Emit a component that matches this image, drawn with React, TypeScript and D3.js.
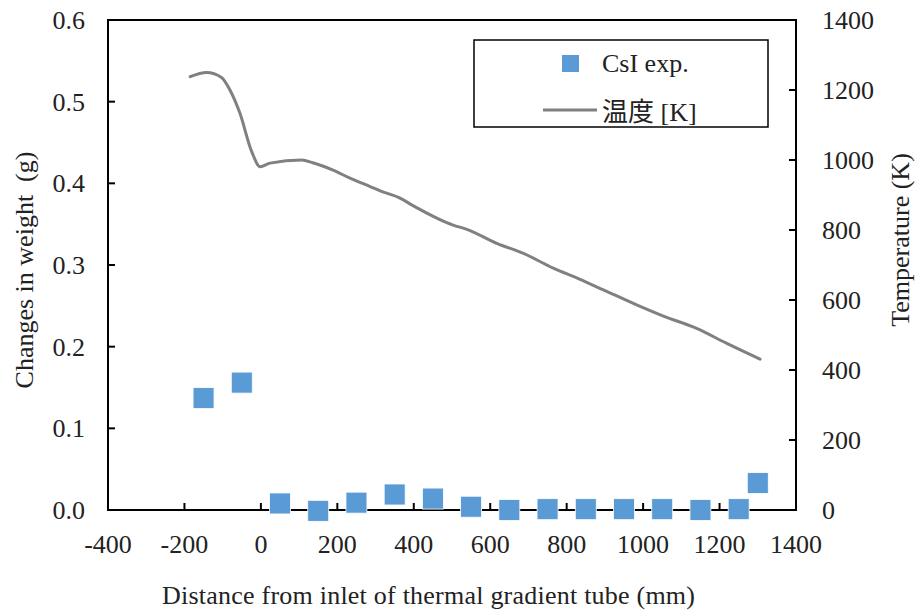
import React from "react";
import * as d3 from "d3";

const xTicks = [-400, -200, 0, 200, 400, 600, 800, 1000, 1200, 1400];
const yLeftTicks = [0, 0.1, 0.2, 0.3, 0.4, 0.5, 0.6];
const yRightTicks = [0, 200, 400, 600, 800, 1000, 1200, 1400];

const csiX = [-150, -50, 50, 150, 250, 350, 450, 550, 650, 750, 850, 950, 1050, 1150, 1250, 1300];
const csiY = [0.137, 0.156, 0.008, -0.001, 0.009, 0.019, 0.014, 0.004, 0.0, 0.001, 0.001, 0.001, 0.001, 0.0, 0.001, 0.033];

const tempX = [-185, -142, -103, -81, -55, -24, -2, 24, 107, 136, 189, 233, 286, 312, 364, 399, 503, 539, 617, 687, 765, 835, 896, 983, 1053, 1140, 1219, 1306];
const tempY = [1238, 1250, 1236, 1200, 1134, 1024, 981, 991, 1000, 992, 971, 948, 924, 912, 891, 869, 814, 802, 762, 733, 691, 659, 629, 586, 554, 519, 476, 431];

const W = 917;
const H = 614;
const L = 108, R = 796, T = 20, B = 510;
const FONT = "'Liberation Serif', 'Times New Roman', 'Noto Sans CJK JP', serif";
const FS = 26;

export default function App() {
  const x = d3.scaleLinear().domain([-400, 1400]).range([L, R]);
  const yL = d3.scaleLinear().domain([0, 0.6]).range([B, T]);
  const yR = d3.scaleLinear().domain([0, 1400]).range([B, T]);
  const line = d3
    .line<number>()
    .x((_, i) => x(tempX[i]))
    .y((d) => yR(d))
    .curve(d3.curveMonotoneX);
  const tick = 7;
  const ms = 21;
  return (
    <svg width={W} height={H} style={{ position: "absolute", left: 0, top: 0, background: "#fff" }} fontFamily={FONT} fontSize={FS} fill="#222">
      <rect x={0} y={0} width={W} height={H} fill="#fff" />
      <path d={line(tempY) || ""} fill="none" stroke="#808080" strokeWidth={3} strokeLinejoin="round" strokeLinecap="round" />
      <rect x={L} y={T} width={R - L} height={B - T} fill="none" stroke="#000" strokeWidth={2} />
      {xTicks.map((t) => (
        <g key={"x" + t}>
          <line x1={x(t)} x2={x(t)} y1={B} y2={B - tick} stroke="#000" strokeWidth={2} />
          <text x={x(t)} y={553} textAnchor="middle">{String(t)}</text>
        </g>
      ))}
      {yLeftTicks.map((t) => (
        <g key={"yl" + t}>
          <line x1={L} x2={L + tick} y1={yL(t)} y2={yL(t)} stroke="#000" strokeWidth={2} />
          <text x={85} y={yL(t) + 9} textAnchor="end">{t.toFixed(1)}</text>
        </g>
      ))}
      {yRightTicks.map((t) => (
        <g key={"yr" + t}>
          <line x1={R} x2={R - tick} y1={yR(t)} y2={yR(t)} stroke="#000" strokeWidth={2} />
          <text x={822} y={yR(t) + 9} textAnchor="start">{String(t)}</text>
        </g>
      ))}
      {csiX.map((v, i) => (
        <rect key={"m" + i} x={x(v) - ms / 2} y={yL(csiY[i]) - ms / 2} width={ms} height={ms} fill="#5B9BD5" stroke="#fff" strokeWidth={0.8} />
      ))}
      <text x={162} y={604} textLength={533} lengthAdjust="spacing">Distance from inlet of thermal gradient tube (mm)</text>
      <text transform={`translate(33,270) rotate(-90)`} textAnchor="middle" style={{ whiteSpace: "pre" }}>{"Changes in weight  (g)"}</text>
      <text transform={`translate(909,240) rotate(-90)`} textAnchor="middle">Temperature (K)</text>
      <rect x={474} y={40} width={294} height={87} fill="#fff" stroke="#000" strokeWidth={1.5} />
      <rect x={562} y={55} width={17} height={17} fill="#5B9BD5" />
      <text x={602} y={72}>CsI exp.</text>
      <line x1={543} x2={597} y1={110} y2={110} stroke="#808080" strokeWidth={3} />
      <text x={602} y={121}>温度 [K]</text>
    </svg>
  );
}
